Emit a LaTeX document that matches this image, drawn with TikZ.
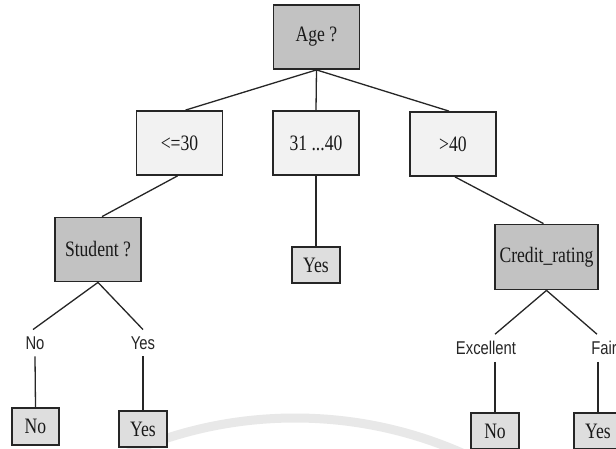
\documentclass[tikz,border=0pt]{standalone}
\usepackage{fontspec}
\newfontfamily\boxfont{Liberation Serif}[FakeStretch=0.8]
\newfontfamily\labfont{Liberation Sans}[FakeStretch=0.8]
\definecolor{testgray}{HTML}{C2C2C2}
\definecolor{rangegray}{HTML}{F2F2F2}
\definecolor{leafgray}{HTML}{DEDEDE}
\tikzset{
  testbox/.style={draw=black!85, line width=1.8pt, fill=testgray, text=black!90,
    minimum width=86pt, minimum height=64pt, inner sep=0pt,
    font=\boxfont\fontsize{22}{22}\selectfont},
  rangebox/.style={testbox, fill=rangegray},
  leafbox/.style={testbox, fill=leafgray, minimum width=48pt, minimum height=36pt},
  branchlab/.style={inner sep=0pt, outer ysep=7pt, text=black!85,
    font=\labfont\fontsize{18.5}{18.5}\selectfont},
  conn/.style={draw=black!85, line width=1.3pt}
}

\begin{document}
\begin{tikzpicture}[x=1pt,y=-1pt]
\useasboundingbox (0,0) rectangle (616,448);
\clip (0,0) rectangle (616,448);
\fill[white] (0,0) rectangle (616,448);
% faint arc at the bottom
\draw[gray!18, line width=9pt] (295,833) circle (415pt);

% tests and ranges
\node[testbox] (age) at (316.5,37) {Age ?};
\node[rangebox] (le30) at (179.5,143) {<=30};
\node[rangebox] (mid) at (316,143) {31 ...40};
\node[rangebox] (gt40) at (453,144) {>40};
\node[testbox] (student) at (98,249.5) {Student ?};
\node[leafbox] (yesmid) at (316,265) {Yes};
\node[testbox, minimum width=103pt, minimum height=65pt] (credit) at (546.5,257) {Credit\_rating};

% branch labels
\node[branchlab] (sno) at (35,343) {No};
\node[branchlab] (syes) at (143,343) {Yes};
\node[branchlab] (cexc) at (486,348) {Excellent};
\node[branchlab] (cfair) at (604,348) {Fair};

% leaves
\node[leafbox, minimum width=47pt, minimum height=37pt] (leafnoA) at (35.5,426.5) {No};
\node[leafbox] (leafyesA) at (143,429) {Yes};
\node[leafbox] (leafnoB) at (495,431) {No};
\node[leafbox] (leafyesB) at (598,431) {Yes};

\path[conn]
  (age.south) edge ([xshift=6]le30.north)
  (age.south) edge (mid.north)
  (age.south) edge ([xshift=-4]gt40.north)
  ([xshift=-2]le30.south) edge ([xshift=4]student.north)
  (mid.south) edge (yesmid.north)
  ([xshift=2]gt40.south) edge ([xshift=-3]credit.north)
  (student.south) edge ([xshift=-2]sno.north)
  (student.south) edge (syes.north)
  (credit.south) edge ([xshift=9]cexc.north)
  (credit.south) edge ([xshift=-7]cfair.north)
  (sno.south) edge (leafnoA.north)
  (syes.south) edge (leafyesA.north)
  (leafnoB.north |- cexc.south) edge (leafnoB.north)
  (leafyesB.north |- cfair.south) edge (leafyesB.north);
\end{tikzpicture}
\end{document}
